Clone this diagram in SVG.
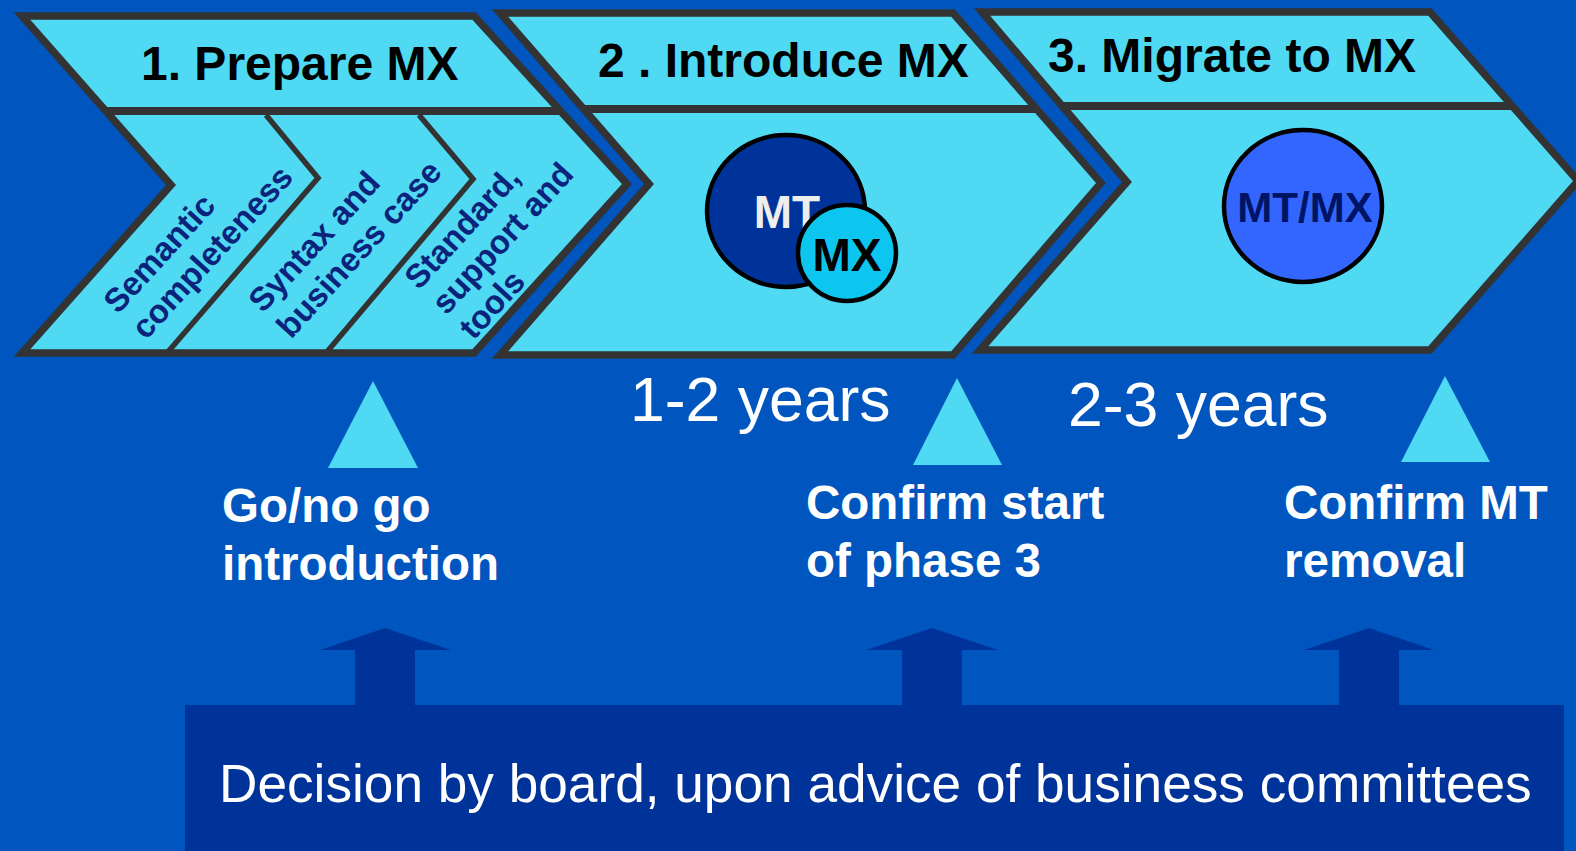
<svg xmlns="http://www.w3.org/2000/svg" width="1576" height="851" viewBox="0 0 1576 851">
<style>
.chev{fill:#4FD9F3;stroke:#333333;stroke-width:7.5;stroke-linejoin:miter;stroke-miterlimit:10}
.sep{stroke:#333333;stroke-width:8;fill:none}
.div{stroke:#333333;stroke-width:5.5;fill:none;stroke-linejoin:miter}
.hdr{font-family:"Liberation Sans",Arial,sans-serif;font-weight:bold;font-size:48px;fill:#000}
.rot{font-family:"Liberation Sans",Arial,sans-serif;font-weight:bold;font-size:33px;fill:#0B237A}
.tri{fill:#4FD9F3}
.lbl{font-family:"Liberation Sans",Arial,sans-serif;font-weight:bold;font-size:47.5px;fill:#FFFFFF}
.yrs{font-family:"Liberation Sans",Arial,sans-serif;font-size:62.5px;fill:#FFFFFF}
.arr{fill:#003399}
</style>
<rect x="0" y="0" width="1576" height="851" fill="#0056BE"/>

<g id="phase1">
  <polygon class="chev" points="22,16 474,16 627,184 474,353 22,353 171,185"/>
  <line class="sep" x1="106" y1="111" x2="560" y2="111"/>
  <polyline class="div" points="266,115 318,178 167,353"/>
  <polyline class="div" points="419,115 473,179 326,353"/>
  <text class="hdr" x="141" y="80">1. Prepare MX</text>
  <text class="rot" transform="translate(118,315) rotate(-47.5)"><tspan x="0" y="0">Semantic</tspan><tspan x="0" dy="38">completeness</tspan></text>
  <text class="rot" transform="translate(263,314) rotate(-47.5)"><tspan x="0" y="0">Syntax and</tspan><tspan x="0" dy="38">business case</tspan></text>
  <text class="rot" transform="translate(419,291) rotate(-47.5)"><tspan x="0" y="0">Standard,</tspan><tspan x="0" dy="37">support and</tspan><tspan x="0" dy="37">tools</tspan></text>
</g>

<g id="phase2">
  <polygon class="chev" points="500,13 953,13 1101,183 953,355 500,355 649,184"/>
  <line class="sep" x1="583" y1="109" x2="1037" y2="109"/>
  <text class="hdr" x="598" y="77">2 . Introduce MX</text>
  <g id="mt-mx">
    <ellipse cx="786" cy="211" rx="79" ry="76" fill="#003399" stroke="#000" stroke-width="4.5"/>
    <text x="787" y="228" text-anchor="middle" font-family="Liberation Sans, Arial, sans-serif" font-weight="bold" font-size="46" fill="#EEEEEE">MT</text>
    <ellipse cx="847" cy="253" rx="49" ry="48" fill="#0DC6EF" stroke="#000" stroke-width="4.5"/>
    <text x="847" y="271" text-anchor="middle" font-family="Liberation Sans, Arial, sans-serif" font-weight="bold" font-size="46" fill="#000">MX</text>
  </g>
</g>

<g id="phase3">
  <polygon class="chev" points="982,12 1430,12 1578,181 1430,350 980,350 1127,182"/>
  <line class="sep" x1="1062" y1="106" x2="1512" y2="106"/>
  <text class="hdr" x="1048" y="72">3. Migrate to MX</text>
  <g id="mtmx">
    <ellipse cx="1303" cy="206" rx="79" ry="76" fill="#3366FF" stroke="#000" stroke-width="4.5"/>
    <text x="1305" y="222" text-anchor="middle" font-family="Liberation Sans, Arial, sans-serif" font-weight="bold" font-size="42" fill="#001466">MT/MX</text>
  </g>
</g>

<g id="duration1"><text class="yrs" x="630" y="421">1-2 years</text></g>
<g id="duration2"><text class="yrs" x="1068" y="426">2-3 years</text></g>

<g id="milestone1">
  <polygon class="tri" points="373,381 328,468 418,468"/>
  <text class="lbl" x="222" y="522"><tspan x="222">Go/no go</tspan><tspan x="222" y="580">introduction</tspan></text>
</g>
<g id="milestone2">
  <polygon class="tri" points="957,378 913,465 1002,465"/>
  <text class="lbl" x="806" y="519"><tspan x="806">Confirm start</tspan><tspan x="806" y="577">of phase 3</tspan></text>
</g>
<g id="milestone3">
  <polygon class="tri" points="1445,376 1401,462 1490,462"/>
  <text class="lbl" x="1284" y="519"><tspan x="1284">Confirm MT</tspan><tspan x="1284" y="577">removal</tspan></text>
</g>

<g id="connectors">
  <polygon class="arr" points="385,628 451,650 415,650 415,706 355,706 355,650 320,650"/>
  <polygon class="arr" points="932,628 998,650 962,650 962,706 902,706 902,650 866,650"/>
  <polygon class="arr" points="1369,628 1434,650 1399,650 1399,706 1339,706 1339,650 1304,650"/>
</g>

<g id="board">
  <rect x="185" y="705" width="1379" height="146" fill="#003399"/>
  <text x="219" y="802" font-family="Liberation Sans, Arial, sans-serif" font-size="53.2" fill="#FFFFFF">Decision by board, upon advice of business committees</text>
</g>
</svg>
